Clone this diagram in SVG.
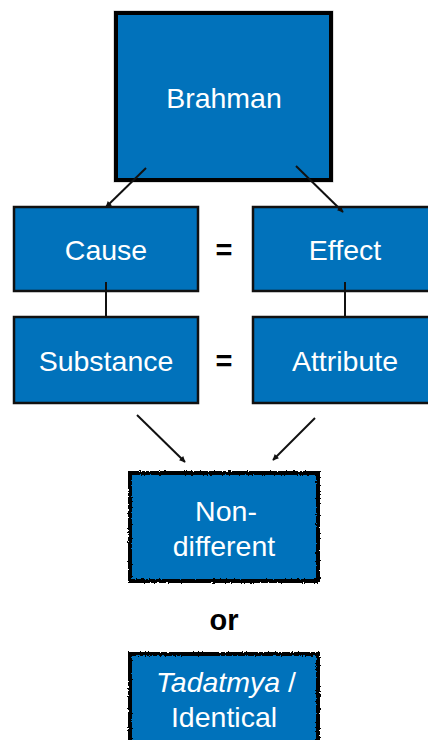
<svg xmlns="http://www.w3.org/2000/svg" width="428" height="740" viewBox="0 0 428 740">
<style>
.box{fill:#0172BB;stroke:#111;stroke-width:2.5}
.lbl{font-family:"Liberation Sans",Arial,sans-serif;font-size:28.5px;fill:#fff;text-anchor:middle}
.eq{font-family:"Liberation Sans",Arial,sans-serif;font-size:29px;font-weight:bold;fill:#000;text-anchor:middle}
.conn{stroke:#111;stroke-width:2;fill:none}
</style>
<defs>
<marker id="ah" viewBox="0 0 10 10" refX="9" refY="5" markerWidth="7" markerHeight="6" orient="auto" markerUnits="userSpaceOnUse">
<path d="M0,0 L10,5 L0,10 z" fill="#111"/>
</marker>
<filter id="rough" x="-5%" y="-5%" width="110%" height="110%">
<feTurbulence type="fractalNoise" baseFrequency="0.6" numOctaves="2" seed="3" result="n"/>
<feDisplacementMap in="SourceGraphic" in2="n" scale="3" xChannelSelector="R" yChannelSelector="G"/>
</filter>
</defs>
<rect width="428" height="740" fill="#fff"/>
<g id="brahman">
<rect x="114" y="11" width="219" height="171" fill="none" stroke="#bbb" stroke-width="1"/>
<rect x="116" y="13" width="215" height="167" fill="#0172BB" stroke="#000" stroke-width="4"/>
<text class="lbl" x="224" y="108">Brahman</text>
</g>
<g id="cause">
<rect class="box" x="14" y="207" width="184" height="84"/>
<text class="lbl" x="106" y="260">Cause</text>
</g>
<g id="effect">
<rect class="box" x="253" y="207" width="184" height="84"/>
<text class="lbl" x="345" y="260">Effect</text>
</g>
<g id="substance">
<rect class="box" x="14" y="317" width="184" height="86"/>
<text class="lbl" x="106" y="371">Substance</text>
</g>
<g id="attribute">
<rect class="box" x="253" y="317" width="184" height="86"/>
<text class="lbl" x="345" y="371">Attribute</text>
</g>
<g id="eq1"><text class="eq" x="224" y="260">=</text></g>
<g id="eq2"><text class="eq" x="224" y="371">=</text></g>
<g id="nondifferent">
<rect x="130" y="473" width="188" height="108" fill="#0172BB" stroke="#000" stroke-width="4" filter="url(#rough)"/>
<text class="lbl" x="226" y="521">Non-</text>
<text class="lbl" x="224" y="556">different</text>
</g>
<g id="or"><text class="eq" x="224" y="630">or</text></g>
<g id="tadatmya">
<rect x="130" y="654" width="188" height="100" fill="#0172BB" stroke="#000" stroke-width="4" filter="url(#rough)"/>
<text class="lbl" x="226" y="692"><tspan font-style="italic">Tadatmya</tspan> /</text>
<text class="lbl" x="224" y="727">Identical</text>
</g>
<g id="connectors">
<line class="conn" x1="146" y1="168" x2="106" y2="207" marker-end="url(#ah)"/>
<line class="conn" x1="296" y1="166" x2="343" y2="212" marker-end="url(#ah)"/>
<line class="conn" x1="106" y1="282" x2="106" y2="318"/>
<line class="conn" x1="345" y1="282" x2="345" y2="318"/>
<line class="conn" x1="137" y1="415" x2="185" y2="462" marker-end="url(#ah)"/>
<line class="conn" x1="315" y1="418" x2="273" y2="460" marker-end="url(#ah)"/>
</g>
</svg>
